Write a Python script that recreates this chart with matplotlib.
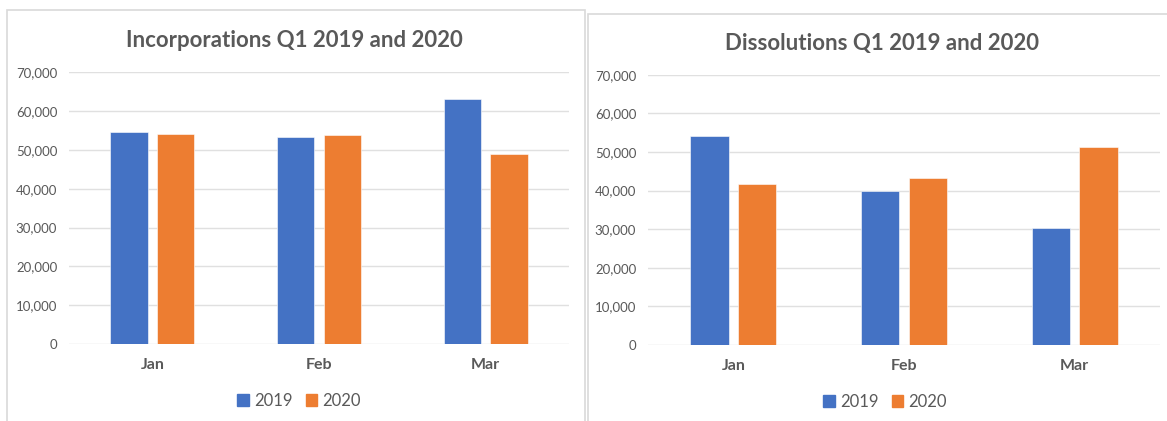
import matplotlib
matplotlib.use("Agg")
import matplotlib.pyplot as plt
from matplotlib.patches import Patch, Rectangle
from matplotlib.ticker import FuncFormatter

months = ["Jan", "Feb", "Mar"]
years = ["2019", "2020"]
incorporations_2019 = [54700, 53300, 63200]
incorporations_2020 = [54000, 53900, 48900]
dissolutions_2019 = [54100, 39800, 30300]
dissolutions_2020 = [41600, 43200, 51400]

BLUE = "#4472C4"
ORANGE = "#ED7D31"
TEXT = "#595959"
GRID = "#D9D9D9"

plt.rcParams["font.family"] = ["Lato", "DejaVu Sans"]

W, H = 1167, 421
fig = plt.figure(figsize=(W / 100, H / 100), dpi=100)


def px_box(x0, y0, x1, y1):
    # pixel box (top-left origin) -> figure fraction [l, b, w, h]
    return [x0 / W, 1 - y1 / H, (x1 - x0) / W, (y1 - y0) / H]


# panel frames (behind the axes)
for x0, y0, x1, y1 in [(7, 10, 585, 430), (588, 14, 1180, 430)]:
    l, b, w, h = px_box(x0, y0, x1, y1)
    fig.patches.append(Rectangle((l, b), w, h, transform=fig.transFigure,
                                 facecolor="none", edgecolor=GRID, lw=1.2,
                                 zorder=-1))


def draw(box, s2019, s2020):
    ax = fig.add_axes(px_box(*box))
    x = range(len(months))
    ax.bar([i - 0.14 for i in x], s2019, width=0.225, color=BLUE,
           edgecolor="white", linewidth=0.4, zorder=3)
    ax.bar([i + 0.14 for i in x], s2020, width=0.225, color=ORANGE,
           edgecolor="white", linewidth=0.4, zorder=3)
    ax.set_xlim(-0.5, 2.5)
    ax.set_ylim(0, 70000)
    ax.set_yticks(range(0, 70001, 10000))
    ax.yaxis.set_major_formatter(FuncFormatter(lambda v, p: f"{int(v):,}"))
    ax.set_xticks(list(x))
    ax.set_xticklabels(months, fontweight="bold", fontsize=11.5, color=TEXT)
    ax.tick_params(axis="y", length=0, pad=8.5, labelsize=9.5, labelcolor=TEXT)
    ax.tick_params(axis="x", length=0, pad=10)
    ax.grid(axis="y", color="#E0E0E0", lw=1, zorder=0)
    for s in ax.spines.values():
        s.set_visible(False)
    ax.set_facecolor("none")
    return ax


draw((69, 72.3, 569, 344), incorporations_2019, incorporations_2020)
draw((648, 74.7, 1160, 345), dissolutions_2019, dissolutions_2020)

fig.text(294 / W, 1 - 46.7 / H, "Incorporations Q1 2019 and 2020",
         ha="center", va="baseline", fontsize=16, fontweight="bold", color=TEXT)
fig.text(882 / W, 1 - 50 / H, "Dissolutions Q1 2019 and 2020",
         ha="center", va="baseline", fontsize=16, fontweight="bold", color=TEXT)

handles = [Patch(color=BLUE), Patch(color=ORANGE)]
for cx, cy in [(299, 401), (885, 402)]:
    fig.legend(handles, years, loc="center", bbox_to_anchor=(cx / W, 1 - cy / H),
               ncol=2, frameon=False, fontsize=12, labelcolor=TEXT,
               handlelength=0.7, handleheight=0.7, handletextpad=0.3,
               columnspacing=0.8)

fig.savefig("out.png", dpi=100)
